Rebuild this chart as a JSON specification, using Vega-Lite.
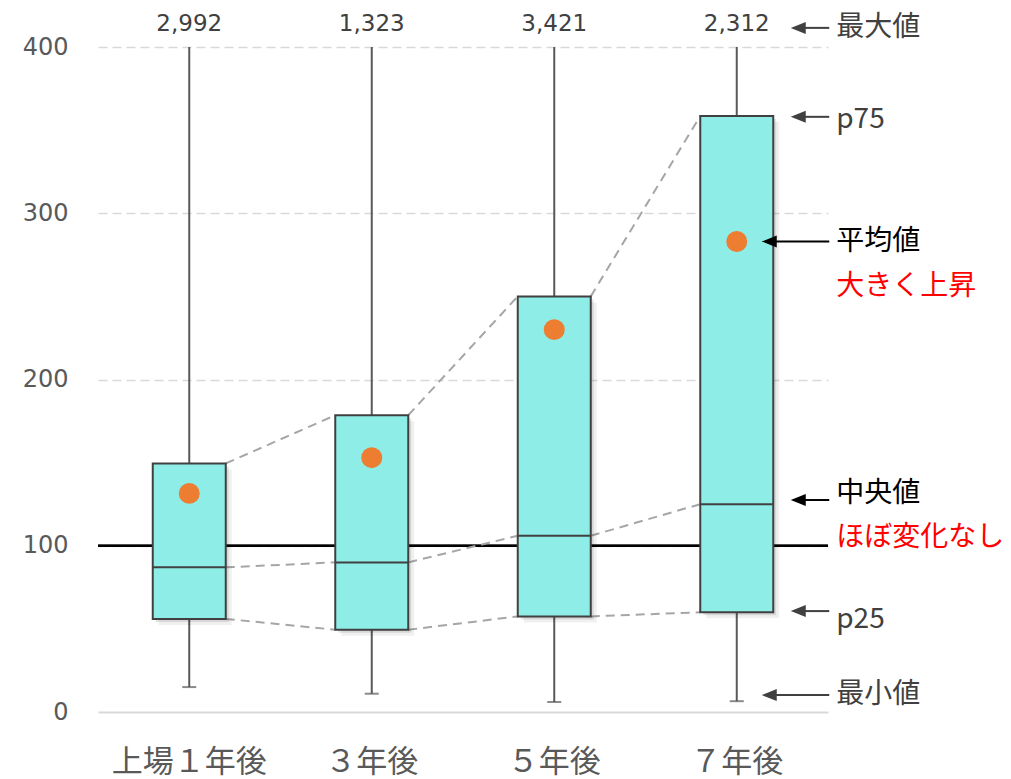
{
  "$schema": "https://vega.github.io/schema/vega-lite/v6.json",
  "width": 730,
  "height": 665,
  "autosize": {"type": "none"},
  "padding": {"left": 98, "top": 47, "right": 183, "bottom": 67},
  "background": "white",
  "config": {"view": {"stroke": null}},
  "datasets": {
    "boxes": [
      {"cat": "上場１年後", "min": 15, "p25": 56, "median": 87, "p75": 149.5, "max": 2992, "mean": 131.5},
      {"cat": "３年後", "min": 11, "p25": 49.5, "median": 90, "p75": 178.5, "max": 1323, "mean": 153},
      {"cat": "５年後", "min": 6, "p25": 57.5, "median": 106, "p75": 250, "max": 3421, "mean": 230},
      {"cat": "７年後", "min": 6.5, "p25": 60, "median": 125, "p75": 358.5, "max": 2312, "mean": 283}
    ],
    "connectors": [
      {"from": "上場１年後", "to": "３年後", "stat": "p75", "v1": 149.5, "v2": 178.5},
      {"from": "上場１年後", "to": "３年後", "stat": "median", "v1": 87, "v2": 90},
      {"from": "上場１年後", "to": "３年後", "stat": "p25", "v1": 56, "v2": 49.5},
      {"from": "３年後", "to": "５年後", "stat": "p75", "v1": 178.5, "v2": 250},
      {"from": "３年後", "to": "５年後", "stat": "median", "v1": 90, "v2": 106},
      {"from": "３年後", "to": "５年後", "stat": "p25", "v1": 49.5, "v2": 57.5},
      {"from": "５年後", "to": "７年後", "stat": "p75", "v1": 250, "v2": 358.5},
      {"from": "５年後", "to": "７年後", "stat": "median", "v1": 106, "v2": 125},
      {"from": "５年後", "to": "７年後", "stat": "p25", "v1": 57.5, "v2": 60}
    ],
    "arrows": [
      {"anchor": "７年後", "target": "最大値", "y": 411.5, "kind": "marker", "reach": "short"},
      {"anchor": "７年後", "target": "p75", "y": 358, "kind": "marker", "reach": "short"},
      {"anchor": "７年後", "target": "平均値", "y": 283, "kind": "stat", "reach": "long"},
      {"anchor": "７年後", "target": "中央値", "y": 127.5, "kind": "stat", "reach": "short"},
      {"anchor": "７年後", "target": "p25", "y": 60.7, "kind": "marker", "reach": "short"},
      {"anchor": "７年後", "target": "最小値", "y": 10.2, "kind": "marker", "reach": "long"}
    ],
    "notes": [
      {"anchor": "７年後", "text": "最大値", "y": 411.5, "kind": "marker"},
      {"anchor": "７年後", "text": "p75", "y": 356, "kind": "marker"},
      {"anchor": "７年後", "text": "平均値", "y": 283, "kind": "stat"},
      {"anchor": "７年後", "text": "大きく上昇", "y": 255.5, "kind": "finding"},
      {"anchor": "７年後", "text": "中央値", "y": 131, "kind": "stat"},
      {"anchor": "７年後", "text": "ほぼ変化なし", "y": 104.7, "kind": "finding"},
      {"anchor": "７年後", "text": "p25", "y": 55.3, "kind": "marker"},
      {"anchor": "７年後", "text": "最小値", "y": 10.2, "kind": "marker"}
    ]
  },
  "layer": [
    {
      "data": {"name": "boxes"},
      "mark": {"type": "rule", "color": "#595959", "strokeWidth": 2, "clip": true},
      "encoding": {
        "x": {
          "field": "cat", "type": "nominal",
          "scale": {"domain": ["上場１年後", "３年後", "５年後", "７年後"], "paddingInner": 0.6, "paddingOuter": 0.3},
          "axis": {"title": null, "labelFont": "Noto Sans CJK JP", "labelFontSize": 31, "labelColor": "#595959", "ticks": false, "domain": false, "labelPadding": 35, "grid": false, "labelAngle": 0}
        },
        "y": {
          "field": "p75", "type": "quantitative",
          "scale": {"domain": [0, 400], "nice": false},
          "axis": {
            "title": null, "values": [0, 100, 200, 300, 400],
            "labelFont": "DejaVu Sans", "labelFontSize": 24, "labelColor": "#595959",
            "ticks": false, "domain": false, "labelPadding": 30,
            "grid": true, "gridColor": "#d9d9d9",
            "gridWidth": {"condition": {"test": "datum.value === 0", "value": 2}, "value": 1.5},
            "gridDash": {"condition": {"test": "datum.value === 0", "value": []}, "value": [9, 5]}
          }
        },
        "y2": {"field": "max"}
      }
    },
    {
      "data": {"name": "boxes"},
      "mark": {"type": "rule", "color": "#000000", "strokeWidth": 2},
      "encoding": {"y": {"datum": 100, "type": "quantitative"}}
    },
    {
      "data": {"name": "connectors"},
      "mark": {"type": "rule", "color": "#a6a6a6", "strokeWidth": 2, "strokeDash": [9, 6]},
      "encoding": {
        "x": {"field": "from", "type": "nominal", "bandPosition": 1},
        "x2": {"field": "to", "bandPosition": 0},
        "y": {"field": "v1", "type": "quantitative"},
        "y2": {"field": "v2"}
      }
    },
    {
      "data": {"name": "boxes"},
      "mark": {"type": "rule", "color": "#595959", "strokeWidth": 2},
      "encoding": {
        "x": {"field": "cat", "type": "nominal"},
        "y": {"field": "min", "type": "quantitative"},
        "y2": {"field": "p25"}
      }
    },
    {
      "data": {"name": "boxes"},
      "mark": {"type": "tick", "color": "#595959", "size": 14, "thickness": 2, "orient": "horizontal"},
      "encoding": {
        "x": {"field": "cat", "type": "nominal"},
        "y": {"field": "min", "type": "quantitative"}
      }
    },
    {
      "data": {"name": "boxes"},
      "mark": {"type": "rect", "fill": "#000000", "opacity": 0.06, "xOffset": 6, "x2Offset": 6, "yOffset": 6, "y2Offset": 6},
      "encoding": {
        "x": {"field": "cat", "type": "nominal"},
        "y": {"field": "p25", "type": "quantitative"},
        "y2": {"field": "p75"}
      }
    },
    {
      "data": {"name": "boxes"},
      "mark": {"type": "rect", "fill": "#000000", "opacity": 0.1, "xOffset": 3, "x2Offset": 3, "yOffset": 3, "y2Offset": 3},
      "encoding": {
        "x": {"field": "cat", "type": "nominal"},
        "y": {"field": "p25", "type": "quantitative"},
        "y2": {"field": "p75"}
      }
    },
    {
      "data": {"name": "boxes"},
      "mark": {"type": "rect", "fill": "#8eede7", "stroke": "#404040", "strokeWidth": 2},
      "encoding": {
        "x": {"field": "cat", "type": "nominal"},
        "y": {"field": "p25", "type": "quantitative"},
        "y2": {"field": "p75"}
      }
    },
    {
      "data": {"name": "boxes"},
      "mark": {"type": "rule", "color": "#404040", "strokeWidth": 2},
      "encoding": {
        "x": {"field": "cat", "type": "nominal", "bandPosition": 0},
        "x2": {"field": "cat", "bandPosition": 1},
        "y": {"field": "median", "type": "quantitative"}
      }
    },
    {
      "data": {"name": "boxes"},
      "mark": {"type": "point", "shape": "circle", "filled": true, "color": "#ed7d31", "opacity": 1, "size": 440},
      "encoding": {
        "x": {"field": "cat", "type": "nominal"},
        "y": {"field": "mean", "type": "quantitative"}
      }
    },
    {
      "data": {"name": "boxes"},
      "mark": {"type": "text", "font": "DejaVu Sans", "fontSize": 23, "color": "#404040", "baseline": "middle", "dy": -23},
      "encoding": {
        "x": {"field": "cat", "type": "nominal"},
        "y": {"datum": 400, "type": "quantitative"},
        "text": {"field": "max", "type": "quantitative", "format": ",d"}
      }
    },
    {
      "data": {"name": "arrows"},
      "transform": [{"filter": "datum.reach === 'short'"}],
      "mark": {"type": "rule", "strokeWidth": 2, "xOffset": 25, "x2Offset": 56},
      "encoding": {
        "x": {"field": "anchor", "type": "nominal", "bandPosition": 1},
        "x2": {"field": "anchor", "bandPosition": 1},
        "y": {"field": "y", "type": "quantitative"},
        "color": {"field": "kind", "type": "nominal", "scale": {"domain": ["marker", "stat", "finding"], "range": ["#404040", "#000000", "#ff0000"]}, "legend": null}
      }
    },
    {
      "data": {"name": "arrows"},
      "transform": [{"filter": "datum.reach === 'long'"}],
      "mark": {"type": "rule", "strokeWidth": 2, "xOffset": -4, "x2Offset": 56},
      "encoding": {
        "x": {"field": "anchor", "type": "nominal", "bandPosition": 1},
        "x2": {"field": "anchor", "bandPosition": 1},
        "y": {"field": "y", "type": "quantitative"},
        "color": {"field": "kind", "type": "nominal", "legend": null}
      }
    },
    {
      "data": {"name": "arrows"},
      "transform": [{"filter": "datum.reach === 'short'"}],
      "mark": {"type": "point", "shape": "M -1 0 L 1 -0.8 L 1 0.8 Z", "filled": true, "opacity": 1, "size": 225, "xOffset": 25},
      "encoding": {
        "x": {"field": "anchor", "type": "nominal", "bandPosition": 1},
        "y": {"field": "y", "type": "quantitative"},
        "color": {"field": "kind", "type": "nominal", "legend": null}
      }
    },
    {
      "data": {"name": "arrows"},
      "transform": [{"filter": "datum.reach === 'long'"}],
      "mark": {"type": "point", "shape": "M -1 0 L 1 -0.8 L 1 0.8 Z", "filled": true, "opacity": 1, "size": 225, "xOffset": -4},
      "encoding": {
        "x": {"field": "anchor", "type": "nominal", "bandPosition": 1},
        "y": {"field": "y", "type": "quantitative"},
        "color": {"field": "kind", "type": "nominal", "legend": null}
      }
    },
    {
      "data": {"name": "notes"},
      "mark": {"type": "text", "font": "Noto Sans CJK JP", "fontSize": 28, "align": "left", "baseline": "middle", "dx": 63},
      "encoding": {
        "x": {"field": "anchor", "type": "nominal", "bandPosition": 1},
        "y": {"field": "y", "type": "quantitative"},
        "text": {"field": "text", "type": "nominal"},
        "color": {"field": "kind", "type": "nominal", "legend": null}
      }
    }
  ]
}
